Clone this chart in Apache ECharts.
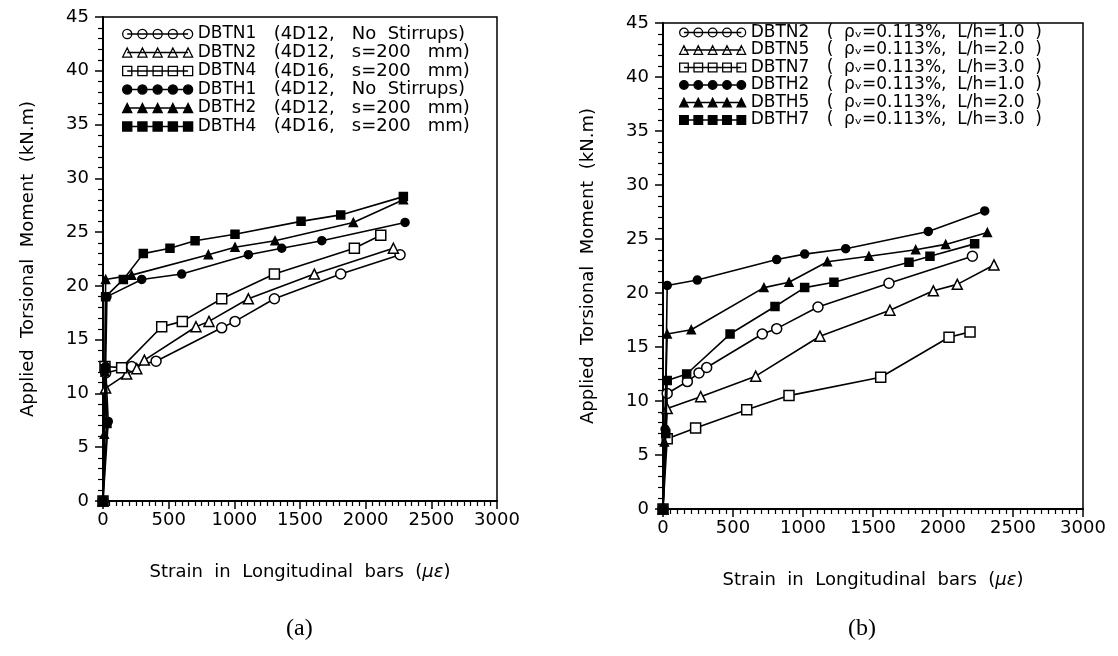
<!DOCTYPE html>
<html>
<head>
<meta charset="utf-8">
<script src="https://cdn.jsdelivr.net/npm/echarts@6/dist/echarts.min.js"></script>
<style>
  html, body { margin: 0; padding: 0; background: #fff; }
  #main { width: 1118px; height: 656px; }
</style>
</head>
<body>
<div id="main"></div>
<script>
  // values: [strain (με), torsional moment (kN.m)]
  // (a) specimens
  var dbtn1A = [[0, 0], [20, 11.9], [218, 12.5], [404, 13.0], [904, 16.1], [1005, 16.7], [1305, 18.8], [1810, 21.1], [2262, 22.9]];
  var dbtn2A = [[0, 0], [20, 10.5], [180, 11.8], [257, 12.3], [315, 13.1], [708, 16.2], [807, 16.7], [1107, 18.8], [1609, 21.1], [2211, 23.5]];
  var dbtn4A = [[0, 0], [15, 12.5], [142, 12.4], [447, 16.2], [604, 16.7], [904, 18.8], [1305, 21.1], [1914, 23.5], [2115, 24.7]];
  var dbth1A = [[0, 0], [40, 7.4], [20, 12.5], [30, 19.0], [295, 20.6], [599, 21.1], [1107, 22.9], [1361, 23.5], [1666, 24.2], [2300, 25.9]];
  var dbth2A = [[0, 0], [10, 6.2], [15, 12.0], [20, 20.6], [218, 21.0], [802, 22.9], [1005, 23.6], [1310, 24.2], [1906, 25.9], [2287, 28.0]];
  var dbth4A = [[0, 0], [30, 7.2], [15, 12.3], [20, 19.0], [155, 20.6], [307, 23.0], [510, 23.5], [701, 24.2], [1005, 24.8], [1508, 26.0], [1810, 26.6], [2287, 28.3]];

  // (b) specimens
  var dbtn2B = [[0, 0], [30, 10.7], [174, 11.8], [257, 12.6], [312, 13.1], [709, 16.2], [812, 16.7], [1107, 18.7], [1614, 20.9], [2210, 23.4]];
  var dbtn5B = [[0, 0], [30, 9.3], [269, 10.4], [662, 12.3], [1121, 16.0], [1621, 18.4], [1931, 20.2], [2102, 20.8], [2364, 22.6]];
  var dbtn7B = [[0, 0], [30, 6.5], [233, 7.5], [598, 9.2], [900, 10.5], [1555, 12.2], [2043, 15.9], [2193, 16.4]];
  var dbth2B = [[0, 0], [15, 7.4], [30, 20.7], [245, 21.2], [812, 23.1], [1012, 23.6], [1305, 24.1], [1895, 25.7], [2298, 27.6]];
  var dbth5B = [[0, 0], [10, 6.2], [30, 16.2], [202, 16.6], [721, 20.5], [900, 21.0], [1174, 22.9], [1471, 23.4], [1805, 24.0], [2019, 24.5], [2317, 25.6]];
  var dbth7B = [[0, 0], [20, 7.0], [30, 11.9], [169, 12.5], [479, 16.2], [800, 18.75], [1012, 20.5], [1221, 21.0], [1757, 22.85], [1907, 23.4], [2226, 24.55]];

  // legend text
  var namesA = ['DBTN1', 'DBTN2', 'DBTN4', 'DBTH1', 'DBTH2', 'DBTH4'];
  var descA = ['(4D12,   No  Stirrups)', '(4D12,   s=200   mm)', '(4D16,   s=200   mm)', '(4D12,   No  Stirrups)', '(4D12,   s=200   mm)', '(4D16,   s=200   mm)'];
  var namesB = ['DBTN2', 'DBTN5', 'DBTN7', 'DBTH2', 'DBTH5', 'DBTH7'];
  var ratioB = ['1.0', '2.0', '3.0', '1.0', '2.0', '3.0'];

  var xTicks = [0, 500, 1000, 1500, 2000, 2500, 3000];
  var yTicks = [0, 5, 10, 15, 20, 25, 30, 35, 40, 45];

  var dataA = [dbtn1A, dbtn2A, dbtn4A, dbth1A, dbth2A, dbth4A];
  var dataB = [dbtn2B, dbtn5B, dbtn7B, dbth2B, dbth5B, dbth7B];
  // marker kind per row: open circle, triangle, square, then the same filled
  var kinds = ['circle', 'triangle', 'rect', 'circle', 'triangle', 'rect'];

  // legend icon: five markers on a line
  function legendPath(kind) {
    var p = 'M5 5 L65 5 ';
    [5, 20, 35, 50, 65].forEach(function (cx) {
      if (kind === 'circle') {
        p += 'M' + (cx - 4.5) + ' 5 A4.5 4.5 0 1 0 ' + (cx + 4.5) + ' 5 A4.5 4.5 0 1 0 ' + (cx - 4.5) + ' 5 Z ';
      } else if (kind === 'triangle') {
        p += 'M' + cx + ' 0.5 L' + (cx + 4.5) + ' 9.5 L' + (cx - 4.5) + ' 9.5 Z ';
      } else {
        p += 'M' + (cx - 4.5) + ' 0.5 H' + (cx + 4.5) + ' V9.5 H' + (cx - 4.5) + ' Z ';
      }
    });
    return 'path://' + p;
  }

  var font = 'DejaVu Sans';
  var series = [];
  var legendA = [];
  var legendB = [];

  function addSeries(prefix, names, data, idx, legendList) {
    for (var i = 0; i < names.length; i++) {
      var open = i < 3;
      series.push({
        name: prefix + names[i],
        type: 'line',
        xAxisIndex: idx,
        yAxisIndex: idx,
        data: data[i],
        symbol: kinds[i],
        symbolSize: open ? 10 : 8,
        showAllSymbol: true,
        color: '#000',
        itemStyle: { color: open ? '#fff' : '#000', borderColor: '#000', borderWidth: 1.5 },
        lineStyle: { color: '#000', width: 1.6 },
        z: open ? 3 : 4
      });
      legendList.push({
        name: prefix + names[i],
        icon: legendPath(kinds[i]),
        itemStyle: { color: open ? '#fff' : '#000', borderColor: '#000', borderWidth: 1.3 }
      });
    }
  }
  addSeries('a:', namesA, dataA, 0, legendA);
  addSeries('b:', namesB, dataB, 1, legendB);

  function xAxisFor(idx) {
    return {
      type: 'value',
      gridIndex: idx,
      min: 0,
      max: xTicks[xTicks.length - 1],
      interval: 500,
      name: 'Strain  in  Longitudinal  bars  ({i|με})',
      nameLocation: 'middle',
      nameGap: 62,
      nameTextStyle: {
        fontFamily: font, fontSize: 18, color: '#000',
        rich: { i: { fontFamily: font, fontSize: 18, fontStyle: 'italic', color: '#000' } }
      },
      axisLine: { lineStyle: { color: '#000', width: 2 } },
      axisTick: { length: 8, lineStyle: { color: '#000', width: 1.5 } },
      minorTick: { show: true, splitNumber: 10, length: 5, lineStyle: { color: '#000', width: 1.2 } },
      axisLabel: { fontFamily: font, fontSize: 18, color: '#000', margin: 10, formatter: function (v) { return String(v); } },
      splitLine: { show: false }
    };
  }
  function yAxisFor(idx) {
    return {
      type: 'value',
      gridIndex: idx,
      min: 0,
      max: yTicks[yTicks.length - 1],
      interval: 5,
      name: 'Applied  Torsional  Moment  (kN.m)',
      nameLocation: 'middle',
      nameGap: 66,
      nameTextStyle: { fontFamily: font, fontSize: 18, color: '#000' },
      axisLine: { lineStyle: { color: '#000', width: 2 } },
      axisTick: { length: 8, lineStyle: { color: '#000', width: 1.5 } },
      minorTick: { show: true, splitNumber: 5, length: 5, lineStyle: { color: '#000', width: 1.2 } },
      axisLabel: { fontFamily: font, fontSize: 18, color: '#000', margin: 14 },
      splitLine: { show: false }
    };
  }

  var descMap = {};
  namesA.forEach(function (n, i) { descMap['a:' + n] = '{n|' + n + '}{w|' + descA[i] + '}'; });
  namesB.forEach(function (n, i) {
    descMap['b:' + n] = '{n|' + n + '}{d|(  ρᵥ=0.113%,  L/h=' + ratioB[i] + '  )}';
  });

  var legendText = {
    fontFamily: font, fontSize: 17, color: '#000',
    rich: {
      n: { fontFamily: font, fontSize: 17, color: '#000', width: 76, lineHeight: 16 },
      d: { fontFamily: font, fontSize: 17, color: '#000', lineHeight: 16 },
      w: { fontFamily: font, fontSize: 18, color: '#000', lineHeight: 16 }
    }
  };

  var chart = echarts.init(document.getElementById('main'));
  chart.setOption({
    animation: false,
    backgroundColor: '#fff',
    grid: [
      { left: 103, top: 17, width: 394, height: 484, show: true, borderColor: '#000', borderWidth: 1.5, backgroundColor: 'transparent' },
      { left: 663, top: 23, width: 420, height: 486, show: true, borderColor: '#000', borderWidth: 1.5, backgroundColor: 'transparent' }
    ],
    xAxis: [xAxisFor(0), xAxisFor(1)],
    yAxis: [yAxisFor(0), yAxisFor(1)],
    legend: [
      {
        orient: 'vertical', left: 117, top: 20, itemWidth: 70, itemHeight: 10, itemGap: 0.5,
        selectedMode: false, data: legendA, textStyle: legendText,
        formatter: function (name) { return descMap[name]; }
      },
      {
        orient: 'vertical', left: 674, top: 19, itemWidth: 66, itemHeight: 10, itemGap: 0.5,
        selectedMode: false, data: legendB, textStyle: legendText,
        formatter: function (name) { return descMap[name]; }
      }
    ],
    graphic: [
      { type: 'text', left: 286, top: 617, style: { text: '(a)', font: '24px "Liberation Serif"', fill: '#000' } },
      { type: 'text', left: 848, top: 617, style: { text: '(b)', font: '24px "Liberation Serif"', fill: '#000' } }
    ],
    series: series
  });
</script>
</body>
</html>
